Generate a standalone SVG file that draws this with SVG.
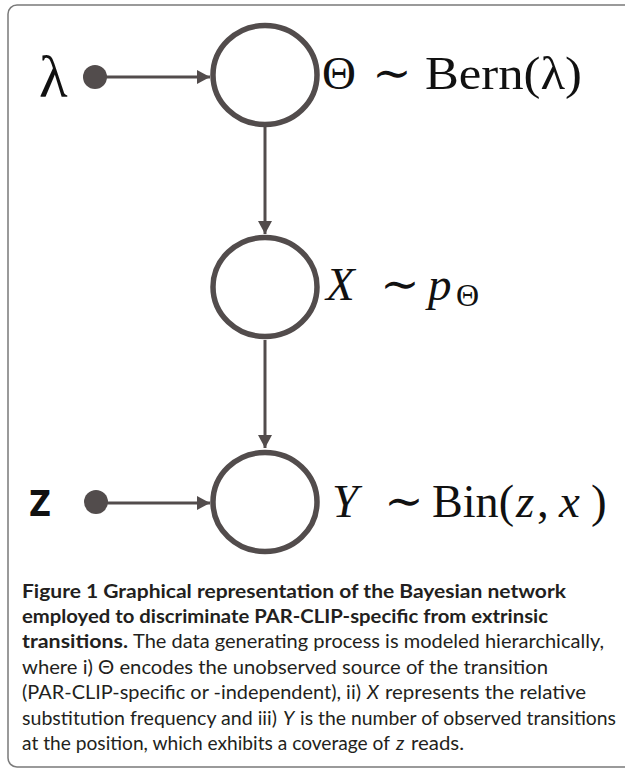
<svg xmlns="http://www.w3.org/2000/svg" width="625" height="770" viewBox="0 0 625 770">
  <style>
    .node { fill: #ffffff; stroke: #524c4c; stroke-width: 5.5; }
    .edge { stroke: #524c4c; stroke-width: 3; fill: none; }
    .dot { fill: #524c4c; }
    .math { font-family: "Liberation Serif", "DejaVu Serif", serif; font-size: 47px; fill: #111; }
    .it { font-style: italic; }
    .cap { font-family: Lato, "Open Sans", "Liberation Sans", sans-serif; font-size: 19.5px; fill: #231f20; }
    .b { font-weight: bold; }
  </style>
  <defs>
    <marker id="arrow" markerUnits="userSpaceOnUse" markerWidth="14" markerHeight="14" refX="13" refY="7" orient="auto">
      <path d="M0,0 L13,7 L0,14 Z" fill="#524c4c"/>
    </marker>
  </defs>

  <!-- frame -->
  <rect x="8" y="5" width="650" height="762" rx="9" fill="none" stroke="#7a7a7a" stroke-width="1.5"/>

  <!-- connectors -->
  <g id="edges">
    <line class="edge" x1="100" y1="77" x2="210" y2="77" marker-end="url(#arrow)"/>
    <line class="edge" x1="265" y1="127" x2="265" y2="234" marker-end="url(#arrow)"/>
    <line class="edge" x1="265" y1="340" x2="265" y2="448" marker-end="url(#arrow)"/>
    <line class="edge" x1="100" y1="503" x2="210" y2="503" marker-end="url(#arrow)"/>
  </g>

  <!-- hyperparameter lambda -->
  <g id="lambda">
    <text class="math" x="39" y="97" style="font-size:59px">λ</text>
    <circle class="dot" cx="95" cy="77" r="12"/>
  </g>

  <!-- observed coverage z -->
  <g id="z">
    <text x="29" y="516" style="font-family:'DejaVu Sans','Liberation Sans',sans-serif;font-weight:bold;font-size:36px;fill:#111" textLength="22" lengthAdjust="spacingAndGlyphs">Z</text>
    <circle class="dot" cx="96" cy="502" r="12"/>
  </g>

  <!-- Theta node -->
  <g id="theta">
    <ellipse class="node" cx="265" cy="75" rx="52" ry="49.5"/>
    <text class="math" x="322" y="89">Θ</text>
    <text class="math" x="392" y="89" text-anchor="middle">∼</text>
    <text class="math" x="425" y="89" textLength="157" lengthAdjust="spacingAndGlyphs">Bern(λ)</text>
  </g>

  <!-- X node -->
  <g id="x">
    <ellipse class="node" cx="265" cy="287" rx="52" ry="49.5"/>
    <text class="math it" x="326" y="300">X</text>
    <text class="math" x="400" y="300" text-anchor="middle">∼</text>
    <text class="math it" x="428" y="300">p</text>
    <text class="math" x="456" y="306" style="font-size:32px">Θ</text>
  </g>

  <!-- Y node -->
  <g id="y">
    <ellipse class="node" cx="265" cy="502" rx="52" ry="49.5"/>
    <text class="math it" x="332" y="517">Y</text>
    <text class="math" x="404" y="517" text-anchor="middle">∼</text>
    <text class="math" x="432" y="517" textLength="82" lengthAdjust="spacingAndGlyphs">Bin(</text>
    <text class="math it" x="516" y="517">z</text>
    <text class="math" x="537" y="517">,</text>
    <text class="math it" x="559" y="517">x</text>
    <text class="math" x="591" y="517">)</text>
  </g>

  <!-- caption -->
  <g id="caption">
    <text class="cap b" x="22" y="598" textLength="544" lengthAdjust="spacingAndGlyphs">Figure 1 Graphical representation of the Bayesian network</text>
    <text class="cap b" x="22" y="623" textLength="526" lengthAdjust="spacingAndGlyphs">employed to discriminate PAR-CLIP-specific from extrinsic</text>
    <text class="cap b" x="22" y="648" textLength="106" lengthAdjust="spacingAndGlyphs">transitions.</text>
    <text class="cap" x="133" y="648" textLength="471" lengthAdjust="spacingAndGlyphs">The data generating process is modeled hierarchically,</text>
    <text class="cap" x="22" y="673.5" textLength="526" lengthAdjust="spacingAndGlyphs">where i) Θ encodes the unobserved source of the transition</text>
    <text class="cap" x="22" y="699" textLength="339" lengthAdjust="spacingAndGlyphs">(PAR-CLIP-specific or -independent), ii)</text>
    <text class="cap it" x="367" y="699">X</text>
    <text class="cap" x="385" y="699" textLength="201" lengthAdjust="spacingAndGlyphs">represents the relative</text>
    <text class="cap" x="22" y="724.5" textLength="255" lengthAdjust="spacingAndGlyphs">substitution frequency and iii)</text>
    <text class="cap it" x="283" y="724.5">Y</text>
    <text class="cap" x="300" y="724.5" textLength="316" lengthAdjust="spacingAndGlyphs">is the number of observed transitions</text>
    <text class="cap" x="22" y="750" textLength="368" lengthAdjust="spacingAndGlyphs">at the position, which exhibits a coverage of</text>
    <text class="cap it" x="396" y="750">z</text>
    <text class="cap" x="411" y="750" textLength="53" lengthAdjust="spacingAndGlyphs">reads.</text>
  </g>
</svg>
